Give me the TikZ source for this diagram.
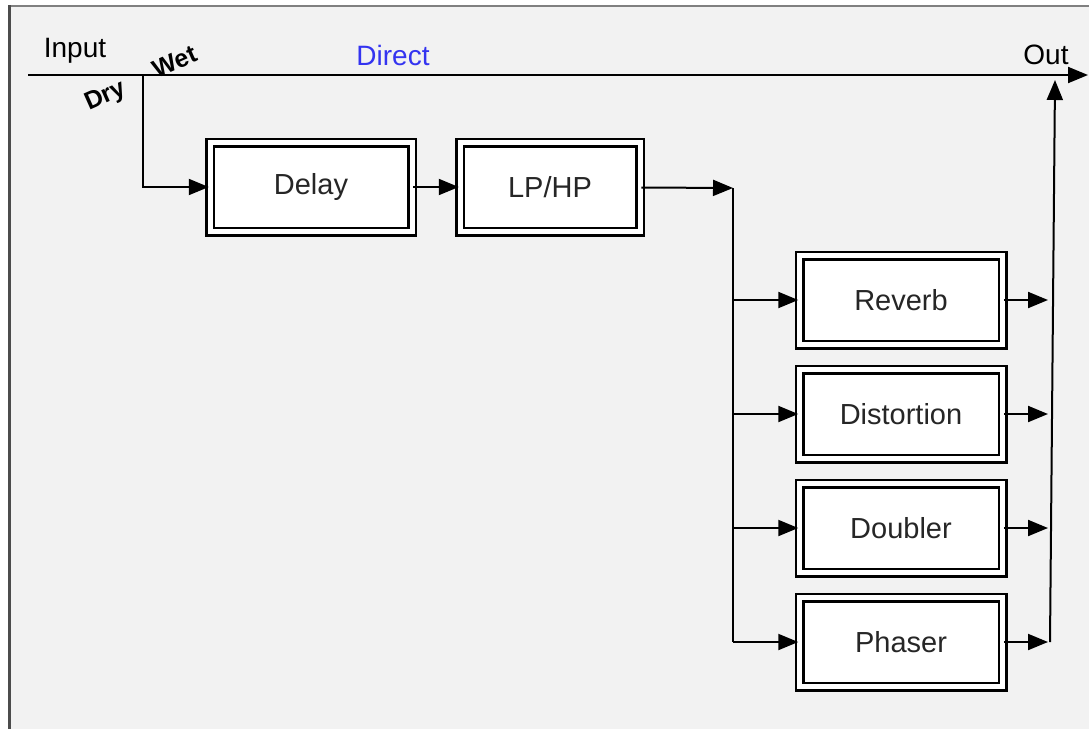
\documentclass[tikz,border=0pt]{standalone}
\usepackage{fontspec}
\setmainfont{Liberation Sans}
\usetikzlibrary{arrows.meta}
\definecolor{directblue}{RGB}{52,52,240}
\begin{document}
\begin{tikzpicture}[x=1pt, y=-1pt, line width=2pt,
    >={Triangle[length=20pt,width=16pt]},
    fx/.style={draw, double=white, double distance=5pt, line width=2.5pt,
      fill=white, minimum height=89pt, text=black!85,
      font=\fontsize{29}{34}\selectfont},
    lbl/.style={inner sep=0pt, font=\fontsize{28}{33}\selectfont},
    tilt/.style={inner sep=0pt, font=\fontsize{25}{30}\selectfont\bfseries, rotate=24}]
    \useasboundingbox (0,0) rectangle (1089,729);
    \fill[black!5] (9,6) rectangle (1089,729);
    \draw[black!50] (1089,6) -- (9,6);
    \draw[black!70, line width=3pt] (9,5) -- (9,729);

    % effects chain
    \node[fx, minimum width=202pt] (delay) at (311,187) {Delay};
    \node[fx, minimum width=180pt] (lphp) at (550,187) {LP/HP};
    \node[fx, minimum width=203pt] (reverb) at (901,300) {Reverb};
    \node[fx, minimum width=203pt] (distortion) at (901,414) {Distortion};
    \node[fx, minimum width=203pt] (doubler) at (901,528) {Doubler};
    \node[fx, minimum width=203pt] (phaser) at (901,642) {Phaser};

    \coordinate (in) at (28,75);
    \coordinate (out) at (1088,75);
    \coordinate (wet) at (143,75);
    \coordinate (split) at (733,188);
    \coordinate (sum) at (1050,642);
    \coordinate (tap) at (1055,80);

    \draw[->] (in) -- (out);
    \draw[->] (wet) |- (delay);
    \draw[->] (delay) -- (lphp);
    \draw[->] (lphp) -- (split);
    \draw (split) -- (split |- phaser);
    \foreach \fxname in {reverb, distortion, doubler, phaser} {
      \draw[->] (split |- \fxname) -- (\fxname);
      \draw[->, shorten >=2pt] (\fxname) -- (sum |- \fxname);
    }
    \draw[->] (sum) -- (tap);

    \node[lbl] (input) at (75,51) {Input};
    \node[lbl, text=directblue] (direct) at (393,55) {Direct};
    \node[lbl] (outlbl) at (1046,55) {Out};
    \node[tilt] (wetlbl) at (175,62) {Wet};
    \node[tilt] (drylbl) at (106,97) {Dry};
\end{tikzpicture}
\end{document}
